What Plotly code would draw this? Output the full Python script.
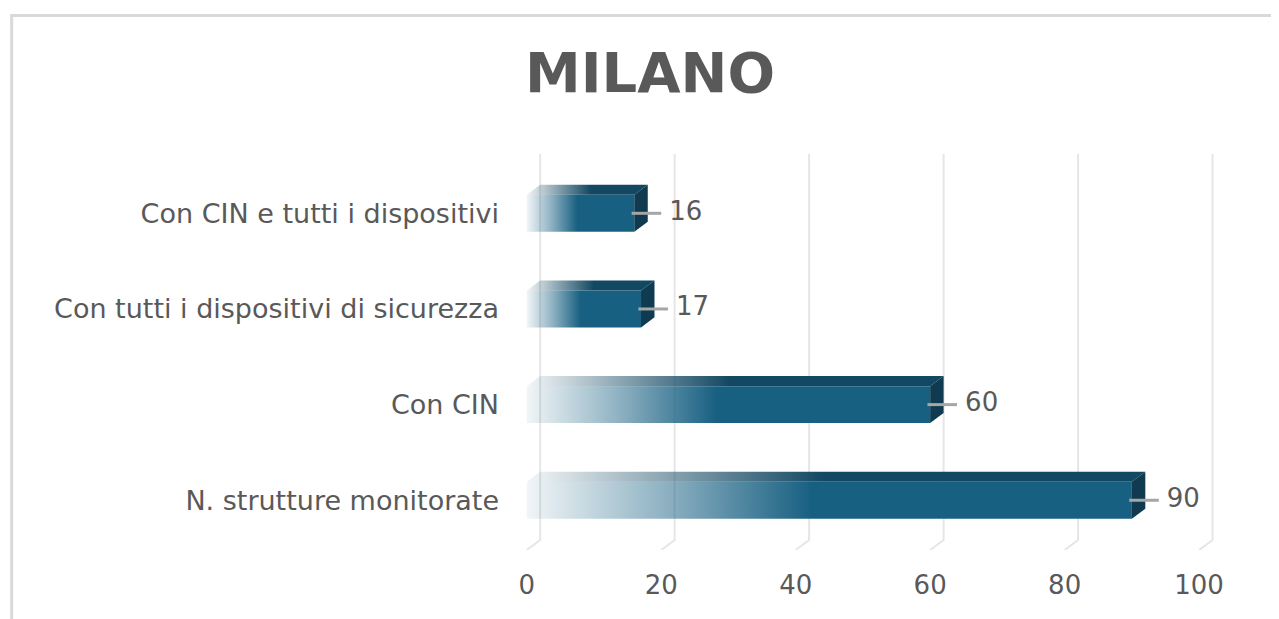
import plotly.graph_objects as go

# dati
categorie = ["N. strutture monitorate", "Con CIN",
             "Con tutti i dispositivi di sicurezza", "Con CIN e tutti i dispositivi"]
valori = [90, 60, 17, 16]
tick_x = [0, 20, 40, 60, 80, 100]

# stile 3D
DX = 2.0      # profondità orizzontale (unità asse x)
DY = 0.105    # profondità verticale (unità asse y)
H = 0.193     # mezza altezza della faccia frontale
BLU = "rgb(24,96,130)"
BLU_TOP = "rgb(19,72,98)"
BLU_LATO = "rgb(15,58,80)"
GRIGIO = "#595959"
FONT = "DejaVu Sans"

Y_TOP = 3.62
Y_FLOOR = -0.52

fig = go.Figure()

# griglia verticale con effetto prospettiva
gx, gy = [], []
for t in tick_x:
    gx += [t + DX, t + DX, t, None]
    gy += [Y_TOP, Y_FLOOR + DY, Y_FLOOR, None]
fig.add_trace(go.Scatter(x=gx, y=gy, mode="lines",
                         line=dict(color="#e6e6e6", width=2),
                         hoverinfo="skip", showlegend=False))

for i, v in enumerate(valori):
    y0, y1 = i - H, i + H
    stop = 0.47 * v
    # faccia superiore
    fig.add_trace(go.Scatter(
        x=[0, v, v + DX, DX, 0], y=[y1, y1, y1 + DY, y1 + DY, y1],
        mode="lines", line=dict(width=0), fill="toself",
        fillgradient=dict(type="horizontal", start=0, stop=stop + DX,
                          colorscale=[[0, "rgba(19,72,98,0.05)"], [1, BLU_TOP]]),
        hoverinfo="skip", showlegend=False))
    # faccia frontale
    fig.add_trace(go.Scatter(
        x=[0, v, v, 0, 0], y=[y0, y0, y1, y1, y0],
        mode="lines", line=dict(width=0), fill="toself",
        fillgradient=dict(type="horizontal", start=0, stop=stop,
                          colorscale=[[0, "rgba(24,96,130,0.06)"], [0.5, "rgba(24,96,130,0.5)"], [1, BLU]]),
        hoverinfo="skip", showlegend=False))
    # faccia laterale
    fig.add_trace(go.Scatter(
        x=[v, v + DX, v + DX, v, v], y=[y0, y0 + DY, y1 + DY, y1, y0],
        mode="lines", line=dict(width=0), fill="toself", fillcolor=BLU_LATO,
        hoverinfo="skip", showlegend=False))
    # linea guida etichetta
    fig.add_trace(go.Scatter(
        x=[v - 0.4, v + 4], y=[i, i], mode="lines",
        line=dict(color="#a6a6a6", width=3),
        hoverinfo="skip", showlegend=False))

# etichette dati
fig.add_trace(go.Scatter(
    x=[v + 5.2 for v in valori], y=list(range(len(valori))),
    mode="text", text=[str(v) for v in valori], textposition="middle right",
    textfont=dict(family=FONT, size=26, color=GRIGIO),
    hoverinfo="skip", showlegend=False))

fig.update_xaxes(range=[-1, 104], tickvals=tick_x, showgrid=False, zeroline=False,
                 showline=False, ticks="", ticklabelstandoff=17,
                 tickfont=dict(family=FONT, size=26, color=GRIGIO), fixedrange=True)
fig.update_yaxes(range=[Y_FLOOR, Y_TOP], tickvals=list(range(len(categorie))),
                 ticktext=categorie, showgrid=False, zeroline=False, showline=False,
                 ticks="", ticklabelstandoff=20,
                 tickfont=dict(family=FONT, size=27, color=GRIGIO), fixedrange=True)

# cornice del grafico
fig.add_shape(type="path", xref="paper", yref="paper",
              path="M -0.72 -0.3 L -0.72 1.35 L 1.2 1.35",
              line=dict(color="#d9d9d9", width=3))

fig.update_layout(
    width=1279, height=619,
    margin=dict(l=512, r=61, t=146, b=77),
    paper_bgcolor="white", plot_bgcolor="white",
    title=dict(text="<b>MILANO</b>", x=642 / 1279, xanchor="center",
               y=1 - 64 / 619, yanchor="middle",
               font=dict(family=FONT, size=56, color=GRIGIO)),
    showlegend=False,
)

fig.write_html("out.html")
